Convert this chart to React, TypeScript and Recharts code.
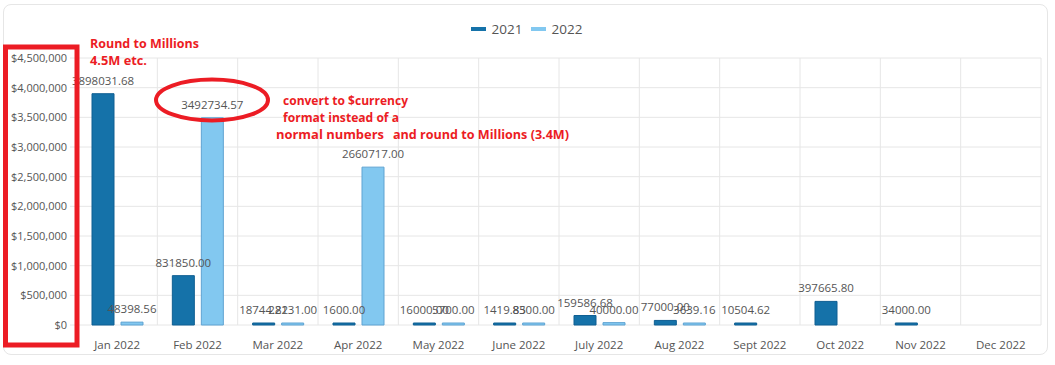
import React from 'react';
import { BarChart, Bar, XAxis, YAxis, CartesianGrid, Legend, LabelList } from 'recharts';

const months = ['Jan 2022', 'Feb 2022', 'Mar 2022', 'Apr 2022', 'May 2022', 'June 2022', 'July 2022', 'Aug 2022', 'Sept 2022', 'Oct 2022', 'Nov 2022', 'Dec 2022'];
const values2021: (number | null)[] = [3898031.68, 831850.0, 18744.82, 1600.0, 16000.0, 1419.85, 159586.68, 77000.0, 10504.62, 397665.8, 34000.0, null];
const values2022: (number | null)[] = [48398.56, 3492734.57, 22131.0, 2660717.0, 5700.0, 8300.0, 40000.0, 3639.16, null, null, null, null];
const yTicks = [0, 500000, 1000000, 1500000, 2000000, 2500000, 3000000, 3500000, 4000000, 4500000];

const seriesNames = ['2021', '2022'];
const seriesFill = ['#1572a9', '#82c8f0'];
const seriesStroke = ['#0f5f92', '#5fa3d2'];

const data = months.map((m, i) => ({ month: m, y2021: values2021[i], y2022: values2022[i] }));

const FONT = '"Open Sans", "Noto Sans", sans-serif';
const RED = '#ec1c24';
const TXT = '#555';

const fmtMoney = (v: number) => '$' + Number(v).toLocaleString('en-US');
const fmtLabel = (v: any) => (v == null ? '' : Number(v).toFixed(2));

const LegendContent = () => (
  <div style={{ height: 39, display: 'flex', justifyContent: 'center', alignItems: 'flex-start', fontFamily: FONT, paddingLeft: 12, boxSizing: 'border-box' }}>
    {seriesNames.map((n, i) => (
      <div key={n} style={{ display: 'flex', alignItems: 'center', height: 20, marginLeft: i ? 8 : 0 }}>
        <div style={{ width: 15, height: 4, background: seriesFill[i], marginRight: 6 }} />
        <span style={{ fontSize: 13.5, color: TXT }}>{n}</span>
      </div>
    ))}
  </div>
);

export default function App() {
  return (
    <div style={{ position: 'absolute', left: 0, top: 0, width: 1055, height: 365, background: '#fff', overflow: 'hidden' }}>
      <div style={{ position: 'absolute', left: 3, top: 4, width: 1045, height: 351, boxSizing: 'border-box', border: '1px solid #e6e6e6', borderRadius: 8 }} />
      <div style={{ position: 'absolute', left: 0, top: 0 }}>
        <BarChart width={1055} height={365} data={data} margin={{ top: 19, right: 14, bottom: 0, left: 0 }} barSize={22} barGap={7}>
          <CartesianGrid
            stroke="#e6e6e6"
            verticalCoordinatesGenerator={({ offset }: any) =>
              Array.from({ length: months.length + 1 }, (_, i) => offset.left + (i * offset.width) / months.length)
            }
          />
          <Legend verticalAlign="top" align="center" content={<LegendContent />} />
          <XAxis
            dataKey="month"
            height={40}
            axisLine={false}
            tickLine={false}
            tickMargin={10}
            interval={0}
            tick={{ fontSize: 11.5, fill: TXT, fontFamily: FONT }}
          />
          <YAxis
            width={77}
            domain={[0, 4500000]}
            ticks={yTicks}
            interval={0}
            axisLine={false}
            tickLine={{ stroke: '#e6e6e6' }}
            tickSize={7}
            tickMargin={3}
            tickFormatter={fmtMoney}
            tick={{ fontSize: 11, fill: TXT, fontFamily: FONT }}
          />
          <Bar dataKey="y2021" name={seriesNames[0]} fill={seriesFill[0]} stroke={seriesStroke[0]} strokeWidth={1} isAnimationActive={false} minPointSize={(v: any) => (v == null ? 0 : 2)}>
            <LabelList dataKey="y2021" position="top" offset={9} formatter={fmtLabel} style={{ fontSize: 11.5, fill: TXT, fontFamily: FONT }} />
          </Bar>
          <Bar dataKey="y2022" name={seriesNames[1]} fill={seriesFill[1]} stroke={seriesStroke[1]} strokeWidth={1} isAnimationActive={false} minPointSize={(v: any) => (v == null ? 0 : 2)}>
            <LabelList dataKey="y2022" position="top" offset={9} formatter={fmtLabel} style={{ fontSize: 11.5, fill: TXT, fontFamily: FONT }} />
          </Bar>
        </BarChart>
      </div>
      <svg width={1055} height={365} style={{ position: 'absolute', left: 0, top: 0, pointerEvents: 'none' }}>
        <rect x={5.5} y={47} width={71.5} height={298} fill="none" stroke={RED} strokeWidth={5} />
        <ellipse cx={212} cy={100} rx={56} ry={20.5} fill="none" stroke={RED} strokeWidth={4} />
        <g fill={RED} fontFamily={FONT} fontWeight={700} fontSize={13}>
          <text x={90} y={48} textLength={109} lengthAdjust="spacingAndGlyphs">Round to Millions</text>
          <text x={90} y={65} textLength={57} lengthAdjust="spacingAndGlyphs">4.5M etc.</text>
          <text x={283} y={105} textLength={125} lengthAdjust="spacingAndGlyphs">convert to $currency</text>
          <text x={283} y={122} textLength={116} lengthAdjust="spacingAndGlyphs">format instead of a</text>
          <text x={276} y={139} textLength={108} lengthAdjust="spacingAndGlyphs">normal numbers</text>
          <text x={393} y={139} textLength={176} lengthAdjust="spacingAndGlyphs">and round to Millions (3.4M)</text>
        </g>
      </svg>
    </div>
  );
}
